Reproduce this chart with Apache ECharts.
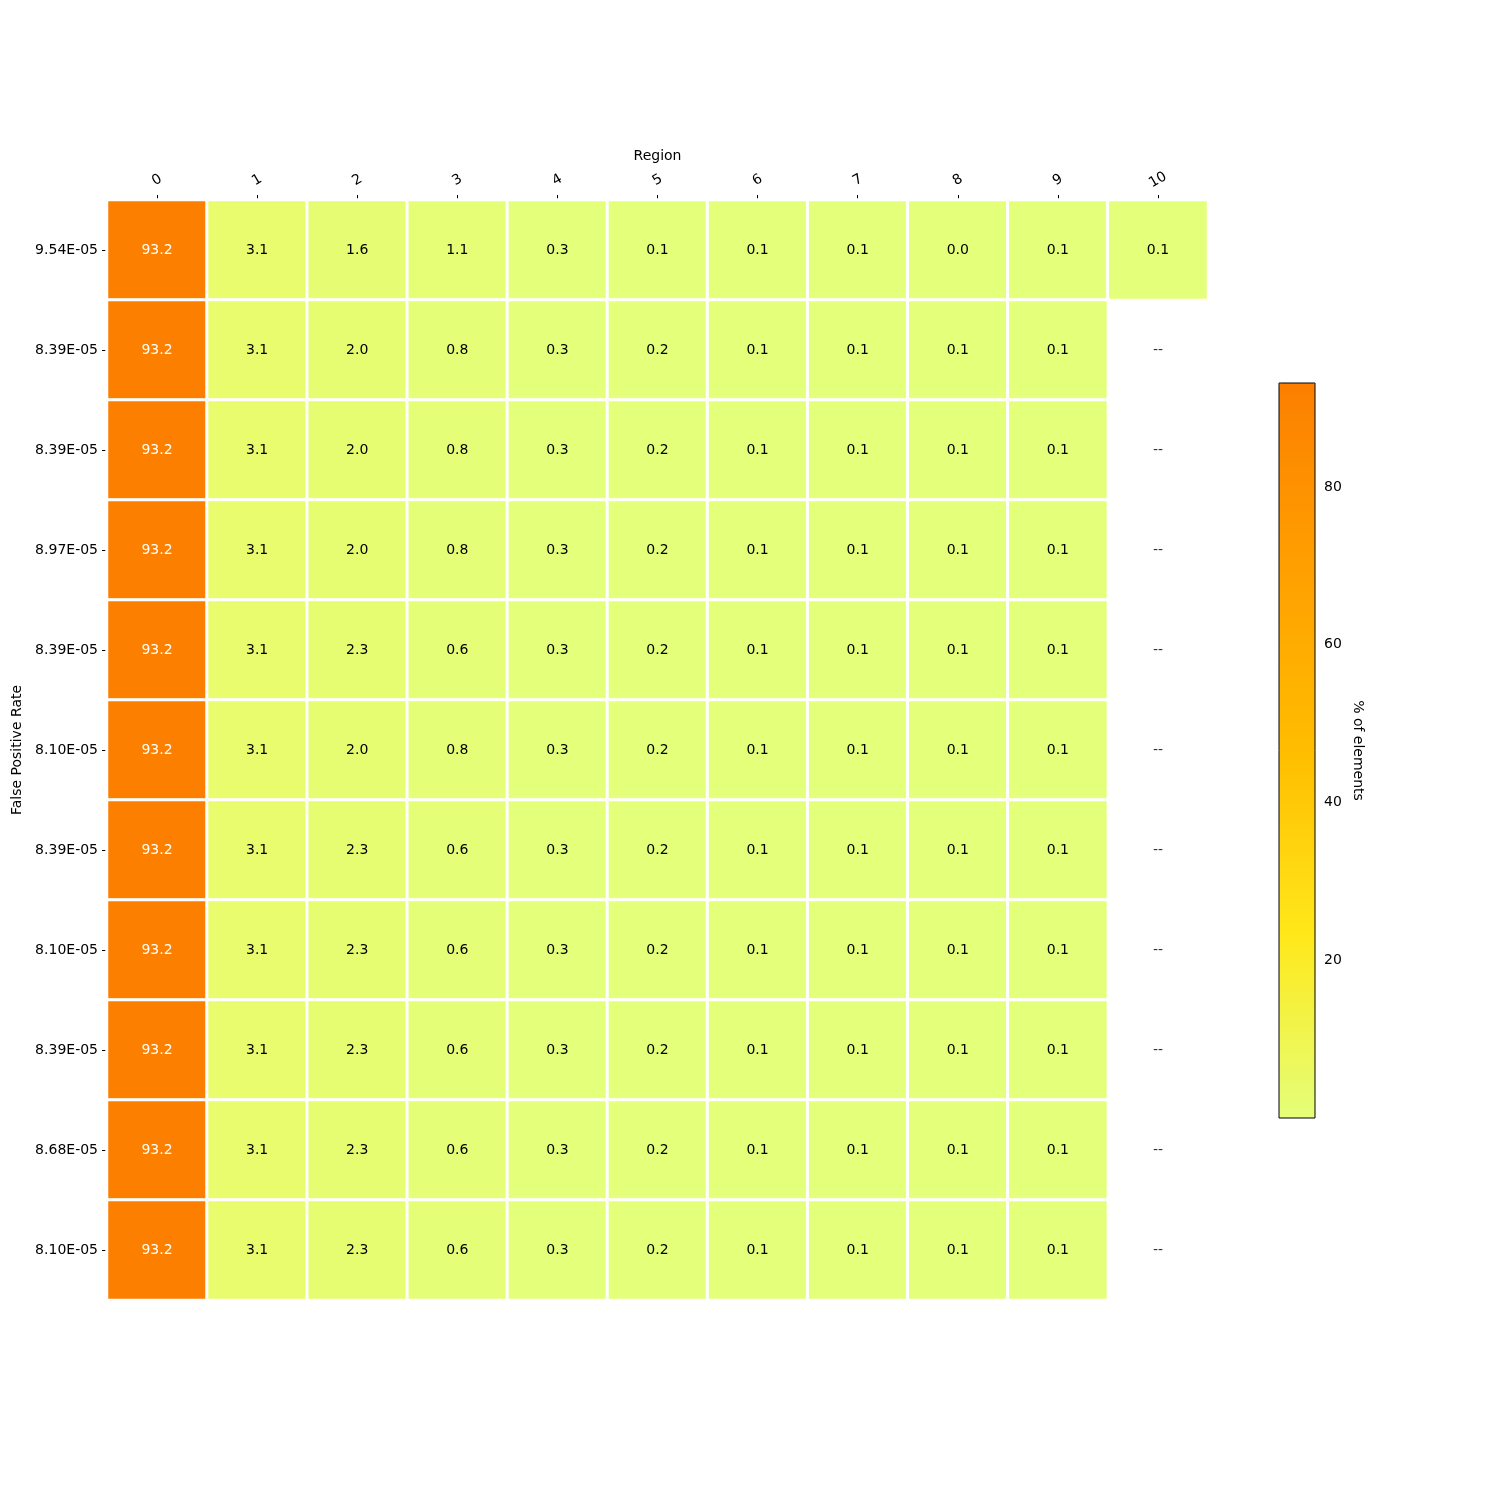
<!DOCTYPE html>
<html>
<head>
<meta charset="utf-8">
<script src="https://cdn.jsdelivr.net/npm/echarts@6/dist/echarts.min.js"></script>
<style>
  html, body { margin: 0; padding: 0; background: #fff; }
  #chart { width: 1500px; height: 1500px; }
</style>
</head>
<body>
<div id="chart"></div>
<script>
const regions = ['0', '1', '2', '3', '4', '5', '6', '7', '8', '9', '10'];

const fprLabels = [
  '9.54E-05', '8.39E-05', '8.39E-05', '8.97E-05', '8.39E-05', '8.10E-05',
  '8.39E-05', '8.10E-05', '8.39E-05', '8.68E-05', '8.10E-05',
];

// % of elements per region, one row per FPR label (null = no value, drawn as "--")
const cellValues = [
  [93.2, 3.1, 1.6, 1.1, 0.3, 0.1, 0.1, 0.1, 0.0, 0.1, 0.1],
  [93.2, 3.1, 2.0, 0.8, 0.3, 0.2, 0.1, 0.1, 0.1, 0.1, null],
  [93.2, 3.1, 2.0, 0.8, 0.3, 0.2, 0.1, 0.1, 0.1, 0.1, null],
  [93.2, 3.1, 2.0, 0.8, 0.3, 0.2, 0.1, 0.1, 0.1, 0.1, null],
  [93.2, 3.1, 2.3, 0.6, 0.3, 0.2, 0.1, 0.1, 0.1, 0.1, null],
  [93.2, 3.1, 2.0, 0.8, 0.3, 0.2, 0.1, 0.1, 0.1, 0.1, null],
  [93.2, 3.1, 2.3, 0.6, 0.3, 0.2, 0.1, 0.1, 0.1, 0.1, null],
  [93.2, 3.1, 2.3, 0.6, 0.3, 0.2, 0.1, 0.1, 0.1, 0.1, null],
  [93.2, 3.1, 2.3, 0.6, 0.3, 0.2, 0.1, 0.1, 0.1, 0.1, null],
  [93.2, 3.1, 2.3, 0.6, 0.3, 0.2, 0.1, 0.1, 0.1, 0.1, null],
  [93.2, 3.1, 2.3, 0.6, 0.3, 0.2, 0.1, 0.1, 0.1, 0.1, null],
];

const colorbarTicks = [20, 40, 60, 80];
const colorMin = 0;
const colorMax = 93.2;

// matplotlib "Wistia"
const wistia = ['#e4ff7a', '#ffe81a', '#ffbd00', '#ffa000', '#fc7f00'];

const font = 'DejaVu Sans';
const fs = 14;

const heatData = [];
const missingData = [];
cellValues.forEach((row, y) => {
  row.forEach((v, x) => {
    if (v === null) {
      missingData.push([x, y]);
    } else {
      heatData.push({
        value: [x, y, v],
        label: { color: v > 50 ? '#ffffff' : '#000000' },
      });
    }
  });
});

const chart = echarts.init(document.getElementById('chart'));

chart.setOption({
  backgroundColor: '#ffffff',
  animation: false,
  textStyle: { fontFamily: font },
  grid: [
    { left: 107, top: 200, width: 1101, height: 1100 },
    {
      left: 1279, top: 383, width: 36, height: 735, z: 10,
      show: true, borderColor: '#000', borderWidth: 1, backgroundColor: 'transparent',
    },
  ],
  xAxis: [
    {
      gridIndex: 0,
      type: 'category',
      position: 'top',
      data: regions,
      name: 'Region',
      nameLocation: 'middle',
      nameGap: 37,
      nameTextStyle: { fontSize: fs, color: '#000', fontFamily: font },
      axisLine: { show: false },
      axisTick: { show: true, alignWithLabel: true, length: 5, lineStyle: { color: '#000' } },
      axisLabel: {
        rotate: -30, fontSize: fs, color: '#000', margin: 20, fontFamily: font,
        align: 'center', verticalAlign: 'middle',
      },
      splitLine: { show: false },
    },
    {
      gridIndex: 1,
      type: 'value',
      show: false,
      min: 0,
      max: 1,
    },
  ],
  yAxis: [
    {
      gridIndex: 0,
      type: 'category',
      inverse: true,
      data: fprLabels,
      name: 'False Positive Rate',
      nameLocation: 'middle',
      nameGap: 70,
      nameTextStyle: { fontSize: fs, color: '#000', fontFamily: font },
      axisLine: { show: false },
      axisTick: { show: true, alignWithLabel: true, length: 5, lineStyle: { color: '#000' } },
      axisLabel: { fontSize: fs, color: '#000', margin: 9, fontFamily: font },
      splitLine: { show: false },
    },
    {
      gridIndex: 1,
      type: 'value',
      position: 'right',
      min: colorMin,
      max: colorMax,
      interval: 20,
      name: '% of elements',
      nameLocation: 'middle',
      nameRotate: -90,
      nameGap: 36,
      nameTextStyle: { fontSize: fs, color: '#000', fontFamily: font },
      axisLine: { show: false },
      axisTick: {
        show: true, length: 5, inside: false, lineStyle: { color: '#000' },
        customValues: colorbarTicks,
      },
      axisLabel: {
        fontSize: fs, color: '#000', margin: 9, fontFamily: font,
        customValues: colorbarTicks,
      },
      splitLine: { show: false },
    },
  ],
  visualMap: {
    type: 'continuous',
    min: colorMin,
    max: colorMax,
    seriesIndex: 0,
    calculable: false,
    orient: 'vertical',
    left: 1279,
    top: 383,
    padding: 0,
    itemWidth: 36,
    itemHeight: 735,
    text: null,
    showLabel: false,
    inRange: { color: wistia },
  },
  series: [
    {
      type: 'heatmap',
      xAxisIndex: 0,
      yAxisIndex: 0,
      data: heatData,
      itemStyle: { borderColor: '#ffffff', borderWidth: 3 },
      label: {
        show: true,
        fontSize: fs,
        fontFamily: font,
        formatter: p => p.value[2].toFixed(1),
      },
      emphasis: { disabled: true },
    },
    {
      type: 'scatter',
      xAxisIndex: 0,
      yAxisIndex: 0,
      data: missingData,
      symbolSize: 0,
      label: {
        show: true,
        position: 'inside',
        formatter: '--',
        fontSize: fs,
        color: '#000',
        fontFamily: font,
      },
      emphasis: { disabled: true },
    },
  ],
});
</script>
</body>
</html>
